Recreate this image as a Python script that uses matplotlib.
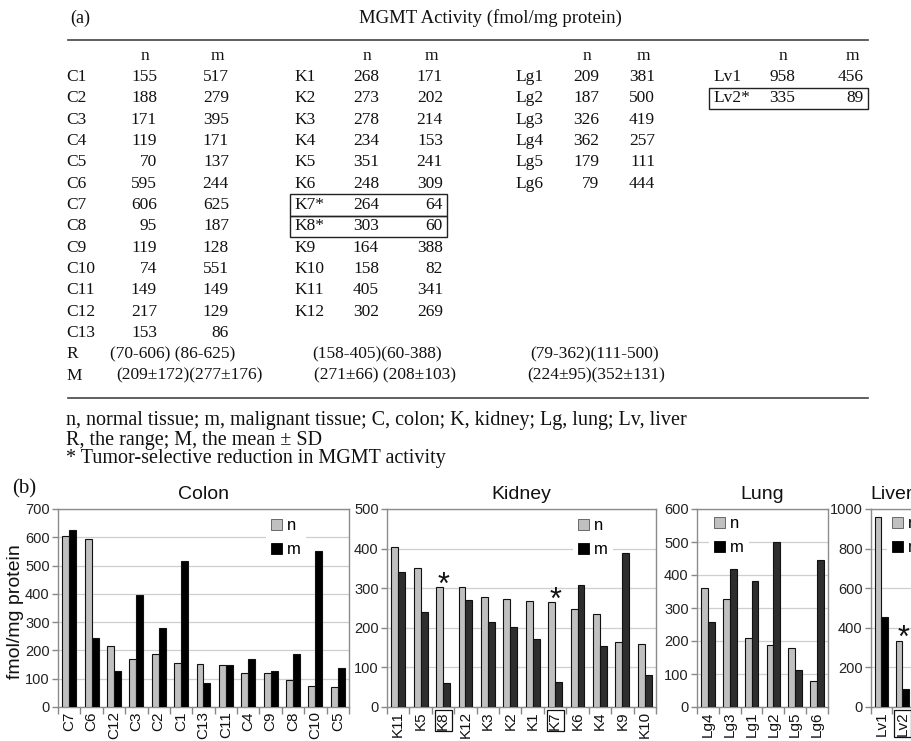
import matplotlib
matplotlib.use('Agg')
import numpy as np
import matplotlib.pyplot as plt
from matplotlib.patches import Patch, Rectangle
from matplotlib.lines import Line2D

W, H = 912, 741

# ---------------- data ----------------
colon_ids = ['C1', 'C2', 'C3', 'C4', 'C5', 'C6', 'C7', 'C8', 'C9', 'C10', 'C11', 'C12', 'C13']
colon_n = [155, 188, 171, 119, 70, 595, 606, 95, 119, 74, 149, 217, 153]
colon_m = [517, 279, 395, 171, 137, 244, 625, 187, 128, 551, 149, 129, 86]

kidney_ids = ['K1', 'K2', 'K3', 'K4', 'K5', 'K6', 'K7', 'K8', 'K9', 'K10', 'K11', 'K12']
kidney_n = [268, 273, 278, 234, 351, 248, 264, 303, 164, 158, 405, 302]
kidney_m = [171, 202, 214, 153, 241, 309, 64, 60, 388, 82, 341, 269]

lung_ids = ['Lg1', 'Lg2', 'Lg3', 'Lg4', 'Lg5', 'Lg6']
lung_n = [209, 187, 326, 362, 179, 79]
lung_m = [381, 500, 419, 257, 111, 444]

liver_ids = ['Lv1', 'Lv2']
liver_n = [958, 335]
liver_m = [456, 89]

selective = ['K7', 'K8', 'Lv2']

colon_order = ['C7', 'C6', 'C12', 'C3', 'C2', 'C1', 'C13', 'C11', 'C4', 'C9', 'C8', 'C10', 'C5']
kidney_order = ['K11', 'K5', 'K8', 'K12', 'K3', 'K2', 'K1', 'K7', 'K6', 'K4', 'K9', 'K10']
lung_order = ['Lg4', 'Lg3', 'Lg1', 'Lg2', 'Lg5', 'Lg6']
liver_order = ['Lv1', 'Lv2']

range_text = ['(70-606) (86-625)', '(158-405)(60-388)', '(79-362)(111-500)']
mean_text = ['(209\u00b1172)(277\u00b1176)', '(271\u00b166) (208\u00b1103)', '(224\u00b195)(352\u00b1131)']

footnotes = ['n, normal tissue; m, malignant tissue; C, colon; K, kidney; Lg, lung; Lv, liver',
             'R, the range; M, the mean \u00b1 SD',
             '* Tumor-selective reduction in MGMT activity']

# ---------------- figure ----------------
fig = plt.figure(figsize=(W / 100, H / 100), dpi=100)
SERIF = ['Liberation Serif', 'DejaVu Serif']
SANS = ['Liberation Sans', 'DejaVu Sans']
TFS = 12.5


def P(x, y):
    return (x / W, 1 - y / H)


def ftext(x, y, s, **kw):
    kw.setdefault('family', SERIF)
    kw.setdefault('fontsize', TFS)
    kw.setdefault('va', 'center')
    kw.setdefault('color', '#111111')
    fig.text(*P(x, y), s, **kw)


def hline(x0, x1, y, lw=1.2):
    fig.add_artist(Line2D([x0 / W, x1 / W], [1 - y / H] * 2, color='#444444', lw=lw))


def box(x0, y0, x1, y1):
    fig.add_artist(Rectangle(P(x0, y1), (x1 - x0) / W, (y1 - y0) / H,
                             fill=False, ec='#222222', lw=1.0, transform=fig.transFigure))


# ---- panel (a): table ----
ftext(70, 18, '(a)', fontsize=13)
ftext(490, 18, 'MGMT Activity (fmol/mg protein)', fontsize=13.5, ha='center')
hline(68, 868, 40)

row0, dy = 77, 21.33
groups = [
    (colon_ids, colon_n, colon_m, 66, 157, 229),
    (kidney_ids, kidney_n, kidney_m, 294, 379, 443),
    (lung_ids, lung_n, lung_m, 515, 599, 655),
    (liver_ids, liver_n, liver_m, 713, 795, 864),
]
for ids, nv, mv, lx, nx, mx in groups:
    ftext(nx - 12, row0 - dy, 'n', ha='center')
    ftext(mx - 12, row0 - dy, 'm', ha='center')
    for i, (lab, a, b) in enumerate(zip(ids, nv, mv)):
        y = row0 + i * dy
        star = '*' if lab in selective else ''
        ftext(lx, y, lab + star, ha='left')
        ftext(nx, y, str(a), ha='right')
        ftext(mx, y, str(b), ha='right')
        if lab in selective:
            box(lx - 4, y - dy / 2, mx + 4, y + dy / 2)

yR = row0 + 13 * dy
yM = row0 + 14 * dy
ftext(66, yR, 'R', ha='left')
ftext(66, yM, 'M', ha='left')
for txt, x in zip(range_text, [110, 312, 530]):
    ftext(x, yR, txt, ha='left')
for txt, x in zip(mean_text, [116, 314, 527]):
    ftext(x, yM, txt, ha='left')
hline(68, 868, 398)
for i, s in enumerate(footnotes):
    ftext(66, 421 + i * 19, s, ha='left', fontsize=14.5)

# ---- panel (b): bar charts ----
ftext(12, 489, '(b)', fontsize=15, ha='left')
fig.text(*P(16, 612), 'fmol/mg protein', rotation=90, ha='center', va='center',
         fontsize=14, family=SANS, color='#111111')

NCOL = '#c0c0c0'
TOP, BOT = 509, 707


def panel(L, R, order, ids, nv, mv, ymax, step, title, mcol, leg_xy):
    ax = fig.add_axes([L / W, 1 - BOT / H, (R - L) / W, (BOT - TOP) / H])
    nd = dict(zip(ids, nv))
    md = dict(zip(ids, mv))
    x = np.arange(len(order))
    bw = 0.31
    ax.bar(x - bw / 2, [nd[k] for k in order], bw, color=NCOL, ec='#111111', lw=0.8, zorder=3)
    ax.bar(x + bw / 2, [md[k] for k in order], bw, color=mcol, ec='#111111', lw=0.8, zorder=3)
    ax.set_xlim(-0.5, len(order) - 0.5)
    ax.set_ylim(0, ymax)
    ax.set_yticks(np.arange(0, ymax + 1, step))
    ax.set_xticks(x)
    ax.set_xticklabels(order, rotation=90, fontsize=11, family=SANS)
    ax.set_xticks(np.arange(-0.5, len(order), 1), minor=True)
    ax.tick_params(axis='x', which='major', length=0, pad=3)
    ax.tick_params(axis='x', which='minor', length=5, color='#888888', width=1)
    ax.tick_params(axis='y', length=4, color='#888888', width=1, pad=2, labelsize=10.5)
    for lbl in ax.get_yticklabels():
        lbl.set_family(SANS)
        lbl.set_color('#222222')
    for lbl in ax.get_xticklabels():
        lbl.set_color('#111111')
        if lbl.get_text() in selective:
            lbl.set_bbox(dict(boxstyle='square,pad=0.1', fc='none', ec='#111111', lw=0.9))
    ax.yaxis.grid(True, color='#cfcfcf', lw=0.9)
    ax.set_axisbelow(True)
    for sp in ax.spines.values():
        sp.set_color('#8c8c8c')
        sp.set_linewidth(1.0)
    ax.set_title(title, fontsize=14, family=SANS, pad=7, color='#111111')
    for i, k in enumerate(order):
        if k in selective:
            ax.annotate('*', xy=(i, nd[k]), xytext=(0.5, 1), textcoords='offset points',
                        ha='center', va='center', fontsize=22, family=SANS, color='#111111')
    handles = [Patch(fc=NCOL, ec='#555555', lw=0.6), Patch(fc='#000000', ec='#000000', lw=0.6)]
    lx = (leg_xy[0] - L) / (R - L)
    ly = (BOT - leg_xy[1]) / (BOT - TOP)
    leg = ax.legend(handles, ['n', 'm'], loc='upper left', bbox_to_anchor=(lx, ly),
                    frameon=True, facecolor='white', edgecolor='none', framealpha=1,
                    fancybox=False, fontsize=12, handlelength=0.65, handleheight=0.65,
                    handletextpad=0.3, labelspacing=0.55, borderpad=0.3, borderaxespad=0)
    for t in leg.get_texts():
        t.set_family(SANS)
    leg.set_zorder(5)
    return ax


panel(58, 349, colon_order, colon_ids, colon_n, colon_m, 700, 100, 'Colon', '#000000', (266, 513))
panel(387, 656, kidney_order, kidney_ids, kidney_n, kidney_m, 500, 100, 'Kidney', '#2e2e2e', (573, 513))
panel(697, 828, lung_order, lung_ids, lung_n, lung_m, 600, 100, 'Lung', '#2e2e2e', (709, 511))
panel(871, 913, liver_order, liver_ids, liver_n, liver_m, 1000, 200, 'Liver', '#000000', (887, 511))

fig.savefig('out.png', dpi=100)
